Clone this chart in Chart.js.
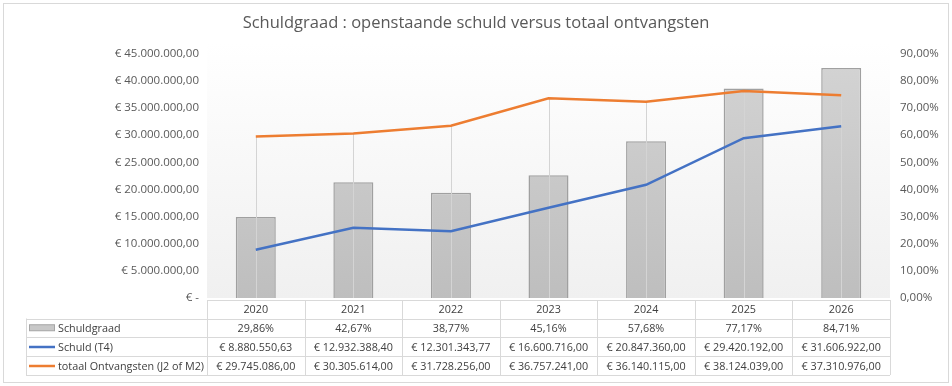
<!DOCTYPE html>
<html>
<head>
<meta charset="utf-8">
<script src="https://cdn.jsdelivr.net/npm/chart.js@4/dist/chart.umd.min.js"></script>
<style>
  body { margin: 0; background: #fff; }
  #wrap { width: 952px; height: 386px; }
</style>
</head>
<body>
<div id="wrap"><canvas id="schuldChart" width="952" height="386"></canvas></div>
<script>
// === data ===
const years        = ['2020', '2021', '2022', '2023', '2024', '2025', '2026'];
const schuldgraad  = [0.2986, 0.4267, 0.3877, 0.4516, 0.5768, 0.7717, 0.8471];
const schuld       = [8880550.63, 12932388.40, 12301343.77, 16600716.00, 20847360.00, 29420192.00, 31606922.00];
const ontvangsten  = [29745086.00, 30305614.00, 31728256.00, 36757241.00, 36140115.00, 38124039.00, 37310976.00];
const seriesNames  = ['Schuldgraad', 'Schuld (T4)', 'totaal Ontvangsten (J2 of M2)'];

const FONT = '"Open Sans", "Liberation Sans", sans-serif';
const TXT  = '#595959';

// nl-NL notatie: 1.234.567,89
function nl(num, dec) {
  const parts = num.toFixed(dec).split('.');
  parts[0] = parts[0].replace(/\B(?=(\d{3})+(?!\d))/g, '.');
  return parts.join(',');
}
const euro = v => v === 0 ? '€ -' : '€ ' + nl(v, 2);
const pct  = v => nl(v * 100, 2) + '%';

// achtergrond van het plotgebied + kader
const background = {
  id: 'background',
  beforeDraw(chart) {
    const { ctx, chartArea: a } = chart;
    ctx.save();
    ctx.fillStyle = '#fff';
    ctx.fillRect(0, 0, chart.width, chart.height);
    const g = ctx.createLinearGradient(0, a.top - 12, 0, a.bottom);
    g.addColorStop(0, '#ffffff');
    g.addColorStop(1, '#f0f0f0');
    ctx.fillStyle = g;
    ctx.fillRect(a.left, a.top - 12, a.right - a.left, a.bottom - a.top + 12);
    ctx.strokeStyle = '#d9d9d9';
    ctx.lineWidth = 1;
    ctx.strokeRect(3.5, 3.5, 945, 379);
    ctx.restore();
  }
};

// drop lines van het hoogste lijnpunt naar de as
const dropLines = {
  id: 'dropLines',
  afterDatasetDraw(chart, args) {
    if (args.index !== 0) return;
    const { ctx, chartArea: a } = chart;
    const m1 = chart.getDatasetMeta(1).data;
    const m2 = chart.getDatasetMeta(2).data;
    ctx.save();
    ctx.strokeStyle = '#d4d4d4';
    ctx.lineWidth = 1;
    m1.forEach((p, i) => {
      const x = Math.round(p.x) + 0.5;
      const top = Math.min(p.y, m2[i].y);
      ctx.beginPath();
      ctx.moveTo(x, top);
      ctx.lineTo(x, a.bottom);
      ctx.stroke();
    });
    ctx.restore();
  }
};

// gegevenstabel onder de grafiek
const dataTable = {
  id: 'dataTable',
  afterDraw(chart) {
    const { ctx, chartArea: a } = chart;
    const xs = chart.scales.x;
    const colW = (a.right - a.left) / years.length;
    const rows = [a.bottom + 2, 318.5, 337, 356, 375];
    const legL = 26;
    const rowVals = [
      schuldgraad.map(pct),
      schuld.map(euro),
      ontvangsten.map(euro)
    ];

    ctx.save();
    ctx.strokeStyle = '#d9d9d9';
    ctx.lineWidth = 1;
    const hline = (x1, x2, y) => { ctx.beginPath(); ctx.moveTo(x1, Math.round(y) + 0.5); ctx.lineTo(x2, Math.round(y) + 0.5); ctx.stroke(); };
    const vline = (x, y1, y2) => { ctx.beginPath(); ctx.moveTo(Math.round(x) + 0.5, y1); ctx.lineTo(Math.round(x) + 0.5, y2); ctx.stroke(); };

    hline(a.left, a.right, rows[0]);
    for (let r = 1; r < rows.length; r++) hline(legL, a.right, rows[r]);
    for (let c = 0; c <= years.length; c++) vline(a.left + c * colW, rows[0], rows[4]);
    vline(legL, rows[1], rows[4]);

    ctx.fillStyle = '#404040';
    ctx.font = '10.8px ' + FONT;
    ctx.textBaseline = 'middle';
    ctx.textAlign = 'center';
    years.forEach((y, i) => {
      ctx.fillText(y, xs.getPixelForValue(i), (rows[0] + rows[1]) / 2 + 1);
    });
    rowVals.forEach((vals, r) => {
      const cy = (rows[r + 1] + rows[r + 2]) / 2 + 1;
      vals.forEach((v, i) => ctx.fillText(v, xs.getPixelForValue(i), cy));
    });

    // legenda-sleutels
    ctx.textAlign = 'left';
    seriesNames.forEach((name, r) => {
      const cy = (rows[r + 1] + rows[r + 2]) / 2;
      if (r === 0) {
        ctx.fillStyle = '#c8c8c8';
        ctx.fillRect(29.5, cy - 3, 25, 6);
        ctx.strokeStyle = '#a5a5a5';
        ctx.strokeRect(29.5, cy - 3, 25, 6);
      } else {
        ctx.strokeStyle = r === 1 ? '#4472C4' : '#ED7D31';
        ctx.lineWidth = 2.5;
        ctx.beginPath();
        ctx.moveTo(29, cy + 0.5);
        ctx.lineTo(55, cy + 0.5);
        ctx.stroke();
      }
      ctx.fillStyle = '#404040';
      ctx.fillText(name, 58, cy + 1);
    });
    ctx.restore();
  }
};

const ctx = document.getElementById('schuldChart').getContext('2d');

new Chart(ctx, {
  data: {
    labels: years,
    datasets: [
      {
        type: 'bar',
        label: seriesNames[0],
        data: schuldgraad,
        yAxisID: 'y1',
        order: 3,
        barPercentage: 0.41,
        categoryPercentage: 1,
        borderColor: '#a0a0a0',
        borderWidth: 1.5,
        backgroundColor: c => {
          const a = c.chart.chartArea;
          if (!a) return '#c8c8c8';
          const g = c.chart.ctx.createLinearGradient(0, a.top, 0, a.bottom);
          g.addColorStop(0, '#d4d4d4');
          g.addColorStop(1, '#bebebe');
          return g;
        }
      },
      {
        type: 'line',
        label: seriesNames[1],
        data: schuld,
        yAxisID: 'y',
        order: 1,
        borderColor: '#4472C4',
        borderWidth: 2.5,
        pointRadius: 0,
        tension: 0
      },
      {
        type: 'line',
        label: seriesNames[2],
        data: ontvangsten,
        yAxisID: 'y',
        order: 2,
        borderColor: '#ED7D31',
        borderWidth: 2.5,
        pointRadius: 0,
        tension: 0
      }
    ]
  },
  options: {
    responsive: false,
    animation: false,
    layout: { padding: { left: 0, right: 0, top: 0, bottom: 88 } },
    plugins: {
      legend: { display: false },
      tooltip: { enabled: false },
      title: {
        display: true,
        text: 'Schuldgraad : openstaande schuld versus totaal ontvangsten',
        color: TXT,
        font: { family: FONT, size: 16.5, weight: 'normal', lineHeight: 1.2 },
        padding: { top: 13, bottom: 20.8 }
      }
    },
    scales: {
      x: { display: false, offset: true },
      y: {
        position: 'left',
        min: 0, max: 45000000,
        border: { display: false },
        grid: { display: false, drawTicks: false },
        ticks: { stepSize: 5000000, padding: 8, color: TXT, font: { family: FONT, size: 11.5 }, callback: v => euro(v) },
        afterFit: s => { s.width = 207; }
      },
      y1: {
        position: 'right',
        min: 0, max: 0.9,
        border: { display: false },
        grid: { display: false, drawTicks: false },
        ticks: { stepSize: 0.1, padding: 10, color: TXT, font: { family: FONT, size: 11.5 }, callback: v => pct(v) },
        afterFit: s => { s.width = 62; }
      }
    }
  },
  plugins: [background, dropLines, dataTable]
});
</script>
</body>
</html>
